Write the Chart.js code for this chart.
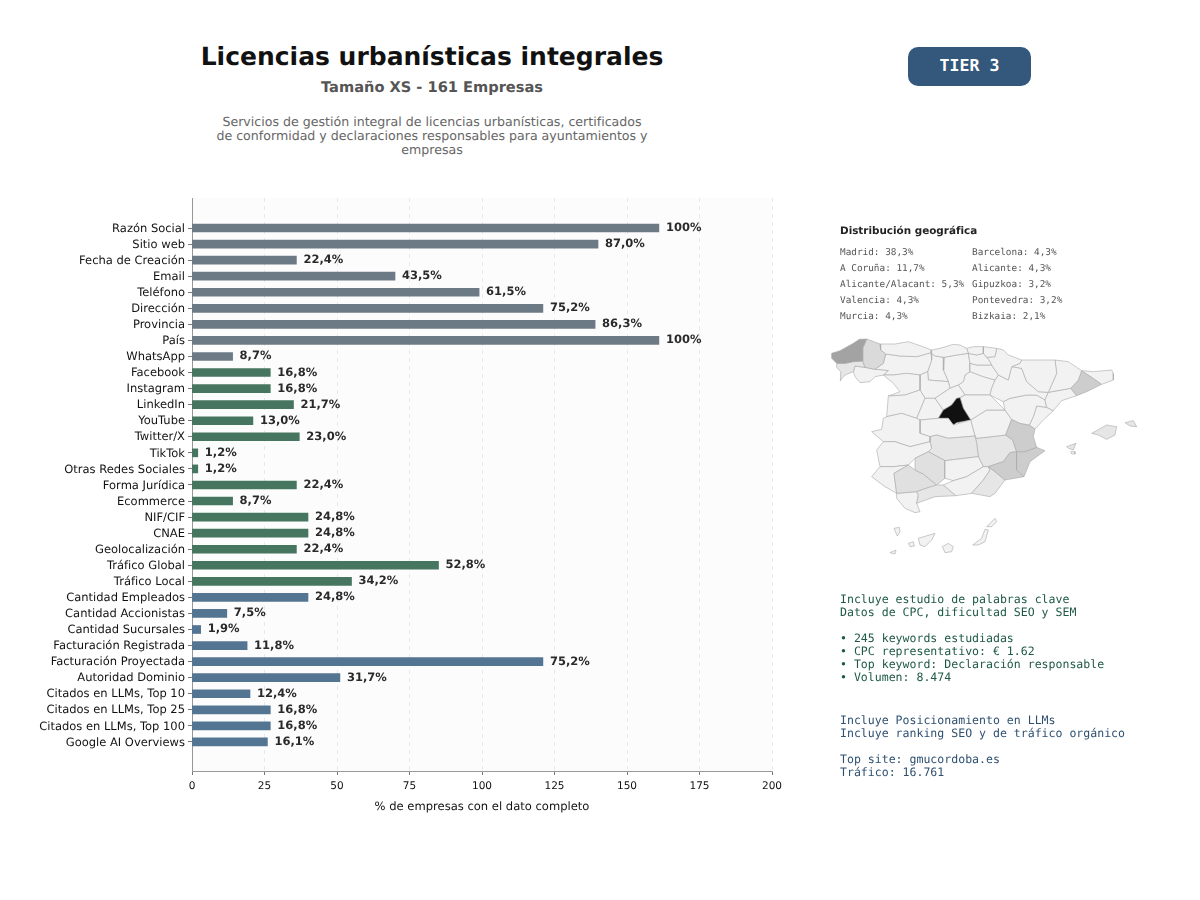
<!DOCTYPE html>
<html lang="es">
<head>
<meta charset="UTF-8">
<title>Licencias urbanísticas integrales</title>
<script src="https://cdn.jsdelivr.net/npm/chart.js"></script>
<style>
    body { margin: 0; background: #fff; font-family: "DejaVu Sans", sans-serif; text-rendering: geometricPrecision; }
    #page { position: relative; width: 1200px; height: 900px; overflow: hidden; }
    canvas { position: absolute; }
    .txt { position: absolute; white-space: pre; }
    .center { left: 132px; width: 600px; text-align: center; }
    .mono { font-family: "DejaVu Sans Mono", monospace; }
    h1 { margin: 0; top: 41px; font-size: 25px; line-height: 32px; font-weight: bold; color: #111; }
    #subtitle { top: 79px; font-size: 14.6px; line-height: 18px; font-weight: bold; color: #555; }
    #desc { top: 115px; font-size: 12.6px; line-height: 14px; color: #666; }
    #tier { left: 908px; top: 47px; width: 123px; height: 39px; line-height: 37px; text-align: center; border-radius: 10px;
            background: #34587c; color: #fff; font-size: 16.6px; font-weight: bold; }
    #geoTitle { left: 840px; top: 223.5px; font-size: 10.4px; line-height: 14px; font-weight: bold; color: #222; }
    .geo { top: 245px; font-size: 9.4px; line-height: 16px; color: #555; }
    #seo { left: 840px; top: 592.5px; font-size: 11.55px; line-height: 13px; color: #1e5945; }
    #llm { left: 840px; top: 713.5px; font-size: 11.55px; line-height: 13px; color: #2f5070; }
    #mapChart { filter: blur(0.35px); }
</style>
</head>
<body>
<div id="page">
    <h1 class="txt center">Licencias urbanísticas integrales</h1>
    <div class="txt center" id="subtitle">Tamaño XS - 161 Empresas</div>
    <div class="txt center" id="desc">Servicios de gestión integral de licencias urbanísticas, certificados
de conformidad y declaraciones responsables para ayuntamientos y
empresas</div>
    <div class="txt mono" id="tier">TIER 3</div>

    <canvas id="barChart" width="1200" height="900" style="left:0;top:0"></canvas>
    <canvas id="mapChart" width="330" height="235" style="left:820px;top:330px"></canvas>

    <div class="txt" id="geoTitle">Distribución geográfica</div>
    <div class="txt mono geo" style="left:840px">Madrid: 38,3%
A Coruña: 11,7%
Alicante/Alacant: 5,3%
Valencia: 4,3%
Murcia: 4,3%</div>
    <div class="txt mono geo" style="left:972px">Barcelona: 4,3%
Alicante: 4,3%
Gipuzkoa: 3,2%
Pontevedra: 3,2%
Bizkaia: 2,1%</div>
    <div class="txt mono" id="seo">Incluye estudio de palabras clave
Datos de CPC, dificultad SEO y SEM

• 245 keywords estudiadas
• CPC representativo: € 1.62
• Top keyword: Declaración responsable
• Volumen: 8.474</div>
    <div class="txt mono" id="llm">Incluye Posicionamiento en LLMs
Incluye ranking SEO y de tráfico orgánico

Top site: gmucordoba.es
Tráfico: 16.761</div>
</div>

<script>
// datos de las barras
const categories = ['Razón Social', 'Sitio web', 'Fecha de Creación', 'Email', 'Teléfono', 'Dirección', 'Provincia', 'País', 'WhatsApp',
    'Facebook', 'Instagram', 'LinkedIn', 'YouTube', 'Twitter/X', 'TikTok', 'Otras Redes Sociales', 'Forma Jurídica', 'Ecommerce', 'NIF/CIF', 'CNAE', 'Geolocalización', 'Tráfico Global', 'Tráfico Local',
    'Cantidad Empleados', 'Cantidad Accionistas', 'Cantidad Sucursales', 'Facturación Registrada', 'Facturación Proyectada', 'Autoridad Dominio', 'Citados en LLMs, Top 10', 'Citados en LLMs, Top 25', 'Citados en LLMs, Top 100', 'Google AI Overviews'];
const values = [161, 140, 36, 70, 99, 121, 139, 161, 14,
    27, 27, 35, 21, 37, 2, 2, 36, 14, 40, 40, 36, 85, 55,
    40, 12, 3, 19, 121, 51, 20, 27, 27, 26];
const valueLabels = ['100%', '87,0%', '22,4%', '43,5%', '61,5%', '75,2%', '86,3%', '100%', '8,7%',
    '16,8%', '16,8%', '21,7%', '13,0%', '23,0%', '1,2%', '1,2%', '22,4%', '8,7%', '24,8%', '24,8%', '22,4%', '52,8%', '34,2%',
    '24,8%', '7,5%', '1,9%', '11,8%', '75,2%', '31,7%', '12,4%', '16,8%', '16,8%', '16,1%'];
const groupSizes = [9, 14, 10];
const xTickStep = 25;
const xMax = 200;

// contornos del mapa (rejilla 990 x 705)
const provinceNames = ['A Coruña', 'Lugo', 'Pontevedra', 'Ourense', 'Asturias', 'Cantabria', 'Bizkaia', 'Gipuzkoa', 'Álava', 'Navarra', 'La Rioja',
    'Huesca', 'Lleida', 'Girona', 'Barcelona', 'Tarragona', 'Zaragoza', 'Teruel', 'Castellón', 'Valencia', 'Alicante', 'Murcia', 'Almería', 'Granada', 'Jaén', 'Málaga', 'Córdoba', 'Sevilla', 'Huelva', 'Cádiz',
    'Badajoz', 'Cáceres', 'Ciudad Real', 'Toledo', 'Madrid', 'Guadalajara', 'Cuenca', 'Albacete', 'Segovia', 'Ávila', 'Salamanca', 'Zamora', 'Valladolid', 'León', 'Palencia', 'Burgos', 'Soria',
    'Mallorca', 'Menorca', 'Ibiza', 'Formentera', 'Lanzarote', 'Fuerteventura', 'Gran Canaria', 'Tenerife', 'La Gomera', 'La Palma', 'El Hierro'];
// nivel de gris de cada provincia, estimado del mapa
const provinceLevel = [5, 3, 1, 0, 0, 0, 0, 0, 0, 0, 0,
    0, 0, 0, 4, 0, 0, 0, 0, 4, 4, 4, 1, 0, 0, 1, 2, 2, 0, 0,
    0, 0, 1, 0, 6, 0, 0, 1, 0, 0, 0, 0, 0, 0, 0, 0, 0,
    1, 1, 1, 0, 0, 0, 0, 0, 0, 0, 0];
const provinceOutlines = [
    [[35,70],[60,62],[100,40],[118,28],[140,27],[128,55],[128,93],[100,95],[75,100],[50,100],[35,85]],
    [[140,27],[180,42],[182,60],[197,72],[190,100],[165,118],[135,112],[128,93],[128,55]],
    [[50,100],[75,100],[100,95],[128,93],[135,112],[105,108],[100,125],[75,135],[60,152],[62,125],[50,112]],
    [[105,108],[135,112],[165,118],[205,122],[190,135],[165,140],[150,155],[120,158],[105,140],[100,125]],
    [[180,42],[225,42],[265,35],[300,47],[335,60],[333,68],[290,80],[240,78],[197,72],[182,60]],
    [[335,60],[360,55],[400,43],[420,45],[440,55],[445,70],[410,75],[372,82],[345,78],[333,68]],
    [[440,55],[460,50],[490,50],[490,70],[470,75],[445,70]],
    [[490,50],[530,55],[525,80],[500,82],[490,70]],
    [[445,70],[470,75],[490,70],[500,82],[505,88],[515,105],[500,105],[470,105],[450,100]],
    [[530,55],[550,60],[565,75],[605,90],[600,100],[575,110],[565,150],[535,135],[515,105],[505,88],[500,82],[525,80]],
    [[450,100],[470,105],[500,105],[515,105],[535,135],[525,150],[490,140],[450,125]],
    [[605,90],[650,90],[705,90],[710,130],[685,187],[655,185],[620,155],[605,115],[575,110],[600,100]],
    [[705,90],[745,95],[785,122],[775,150],[752,175],[685,187],[710,130]],
    [[785,122],[820,125],[875,120],[880,130],[880,150],[845,163],[820,145]],
    [[785,122],[820,145],[845,163],[800,185],[770,197],[752,175],[775,150]],
    [[685,187],[752,175],[770,197],[725,212],[700,242],[680,232],[675,210]],
    [[575,110],[605,115],[620,155],[655,185],[685,187],[675,210],[650,195],[620,195],[570,205],[550,215],[530,205],[510,195],[515,175],[525,150],[535,135],[565,150]],
    [[570,205],[620,195],[650,195],[675,210],[680,232],[650,228],[640,260],[628,285],[600,280],[575,268],[555,240],[550,215]],
    [[650,228],[680,232],[700,242],[670,270],[645,297],[628,285],[640,260]],
    [[575,268],[600,280],[628,285],[645,297],[640,320],[650,352],[615,365],[590,365],[578,330],[557,315]],
    [[590,365],[615,365],[650,352],[675,362],[630,395],[612,440],[590,420],[590,390]],
    [[570,368],[590,365],[590,390],[590,420],[612,440],[555,450],[525,425],[505,410],[550,395]],
    [[505,410],[525,425],[555,450],[525,490],[510,500],[455,490],[490,450],[510,420]],
    [[490,410],[505,410],[510,420],[490,450],[455,490],[408,497],[370,465],[400,452],[440,440]],
    [[375,392],[475,380],[490,410],[440,440],[400,452],[375,445]],
    [[318,475],[350,465],[370,465],[408,497],[345,500],[290,520],[295,495],[290,485]],
    [[285,385],[325,365],[375,392],[375,445],[350,465],[310,432],[285,420]],
    [[222,430],[265,405],[285,420],[310,432],[350,465],[318,475],[290,485],[230,490]],
    [[155,440],[180,410],[220,410],[265,405],[222,430],[230,490],[195,470]],
    [[230,490],[290,485],[295,495],[290,520],[300,545],[285,548],[255,535],[230,505]],
    [[170,360],[190,335],[225,335],[270,350],[330,335],[335,355],[325,365],[285,385],[265,405],[220,410],[180,410]],
    [[190,265],[200,260],[245,250],[290,265],[300,270],[300,310],[330,320],[330,335],[270,350],[225,335],[190,335],[155,305],[185,298]],
    [[330,320],[350,315],[385,325],[465,318],[470,340],[475,380],[375,392],[325,365],[335,355],[330,335]],
    [[300,270],[355,265],[385,265],[400,285],[452,270],[465,318],[385,325],[350,315],[330,320],[300,310]],
    [[420,203],[430,235],[452,270],[410,278],[400,285],[385,265],[355,265],[370,240],[395,225],[410,205]],
    [[435,195],[510,195],[555,240],[500,240],[452,270],[430,235],[420,203]],
    [[452,270],[500,240],[555,240],[575,268],[557,315],[470,325],[465,318]],
    [[465,318],[470,325],[557,315],[578,330],[590,365],[570,368],[550,395],[505,410],[490,410],[475,380],[470,340]],
    [[345,205],[385,178],[390,175],[415,165],[435,195],[420,203],[410,205],[395,225],[370,240]],
    [[315,205],[345,205],[370,240],[355,265],[300,270],[290,265]],
    [[205,198],[255,195],[300,180],[315,205],[290,265],[245,250],[200,260]],
    [[190,135],[220,135],[260,130],[300,135],[300,180],[255,195],[205,198],[240,185],[220,160]],
    [[300,135],[323,125],[325,150],[385,155],[390,175],[385,178],[345,205],[315,205],[300,180]],
    [[197,72],[240,78],[290,80],[333,68],[335,90],[323,125],[300,135],[260,130],[220,135],[190,135],[205,122],[165,118],[190,100]],
    [[333,68],[345,78],[372,82],[370,120],[385,155],[325,150],[323,125],[335,90]],
    [[372,82],[410,75],[445,70],[450,100],[450,125],[435,135],[430,155],[415,165],[390,175],[385,155],[370,120]],
    [[430,155],[435,135],[450,125],[490,140],[525,150],[515,175],[510,195],[435,195],[415,165]],
    [[815,310],[860,285],[890,290],[885,315],[860,328],[835,315]],
    [[915,278],[940,272],[950,290],[930,288]],
    [[740,350],[768,340],[760,360],[745,355]],
    [[752,365],[765,365],[765,372],[755,372]],
    [[500,590],[525,565],[530,575],[515,590]],
    [[458,645],[485,625],[495,598],[505,600],[495,635],[475,645]],
    [[367,650],[385,640],[400,650],[395,665],[375,668]],
    [[295,625],[345,610],[335,630],[315,650],[300,645]],
    [[265,640],[280,635],[283,648],[270,650]],
    [[222,595],[238,592],[240,605],[232,618]],
    [[210,668],[228,660],[225,672]]
];

// colores
const groupColors = ['#6c7a86', '#467560', '#547592'];
const levelColors = ['#f2f2f2', '#e6e6e6', '#e0e0e0', '#dadada', '#cdcdcd', '#a3a3a3', '#111111'];
const barColors = [];
groupSizes.forEach((n, g) => { for (let i = 0; i < n; i++) barColors.push(groupColors[g]); });

const plotBackground = {
    id: 'plotBackground',
    beforeDraw(chart) {
        // sin hinting, como el original
        chart.ctx.textRendering = 'geometricPrecision';
    },
    beforeDatasetsDraw(chart) {
        const a = chart.chartArea;
        chart.ctx.save();
        chart.ctx.fillStyle = 'rgba(0,0,0,0.012)';
        chart.ctx.fillRect(a.left, a.top, a.width, a.height);
        chart.ctx.restore();
    }
};

const barValueLabels = {
    id: 'barValueLabels',
    afterDatasetsDraw(chart) {
        const ctx = chart.ctx;
        ctx.save();
        ctx.font = 'bold 11.5px "DejaVu Sans"';
        ctx.fillStyle = '#2a2a2a';
        ctx.textBaseline = 'middle';
        chart.getDatasetMeta(0).data.forEach((bar, i) => {
            ctx.fillText(valueLabels[i], bar.x + 7, bar.y);
        });
        ctx.restore();
    }
};

new Chart(document.getElementById('barChart'), {
    type: 'bar',
    data: {
        datasets: [{
            data: values.map((v, i) => ({ x: v, y: i })),
            backgroundColor: barColors,
            barThickness: 8
        }]
    },
    options: {
        indexAxis: 'y',
        responsive: false,
        animation: false,
        layout: { padding: { left: 0, right: 428, top: 198, bottom: 86 } },
        plugins: { legend: { display: false }, tooltip: { enabled: false } },
        scales: {
            x: {
                type: 'linear',
                min: 0,
                max: xMax,
                afterFit(scale) { scale.height = 43; },
                ticks: { stepSize: xTickStep, maxRotation: 0, padding: 5, color: '#111', font: { family: 'DejaVu Sans', size: 10.5 } },
                grid: { color: 'rgba(0,0,0,0.12)', lineWidth: 0.7, tickColor: '#555', tickLength: 4, tickWidth: 0.8 },
                border: { color: '#999', dash: [4, 4] },
                title: { display: true, text: '% de empresas con el dato completo', color: '#111', padding: 0, font: { family: 'DejaVu Sans', size: 11.55 } }
            },
            y: {
                type: 'linear',
                reverse: true,
                offset: false,
                min: -1.868,
                max: 33.81,
                afterFit(scale) { scale.width = 192; },
                afterBuildTicks(scale) { scale.ticks = categories.map((c, i) => ({ value: i })); },
                ticks: {
                    autoSkip: false,
                    padding: 3,
                    labelOffset: 0.7,
                    color: '#111',
                    font: { family: 'DejaVu Sans', size: 11.5 },
                    callback: v => categories[v]
                },
                grid: { offset: false, drawOnChartArea: false, tickColor: '#555', tickLength: 4, tickWidth: 0.8 },
                border: { color: '#999' }
            }
        }
    },
    plugins: [plotBackground, barValueLabels]
});

// relleno de cada provincia con los puntos ya colocados por las escalas
const polygonFill = {
    id: 'polygonFill',
    beforeDatasetDraw(chart, args) {
        const pts = args.meta.data;
        const ctx = chart.ctx;
        ctx.save();
        ctx.beginPath();
        pts.forEach((p, i) => { if (i === 0) ctx.moveTo(p.x, p.y); else ctx.lineTo(p.x, p.y); });
        ctx.closePath();
        ctx.fillStyle = chart.data.datasets[args.index].backgroundColor;
        ctx.fill();
        ctx.restore();
    }
};

new Chart(document.getElementById('mapChart'), {
    type: 'scatter',
    data: {
        datasets: provinceOutlines.map((outline, i) => ({
            label: provinceNames[i],
            data: outline.concat([outline[0]]).map(p => ({ x: p[0], y: p[1] })),
            showLine: true,
            fill: false,
            pointRadius: 0,
            borderWidth: 0.6,
            borderColor: '#a8a8a8',
            backgroundColor: levelColors[provinceLevel[i]]
        }))
    },
    options: {
        responsive: false,
        animation: false,
        plugins: { legend: { display: false }, tooltip: { enabled: false } },
        scales: {
            x: { display: false, min: 0, max: 990 },
            y: { display: false, min: 0, max: 705, reverse: true }
        }
    },
    plugins: [polygonFill]
});
</script>
</body>
</html>
